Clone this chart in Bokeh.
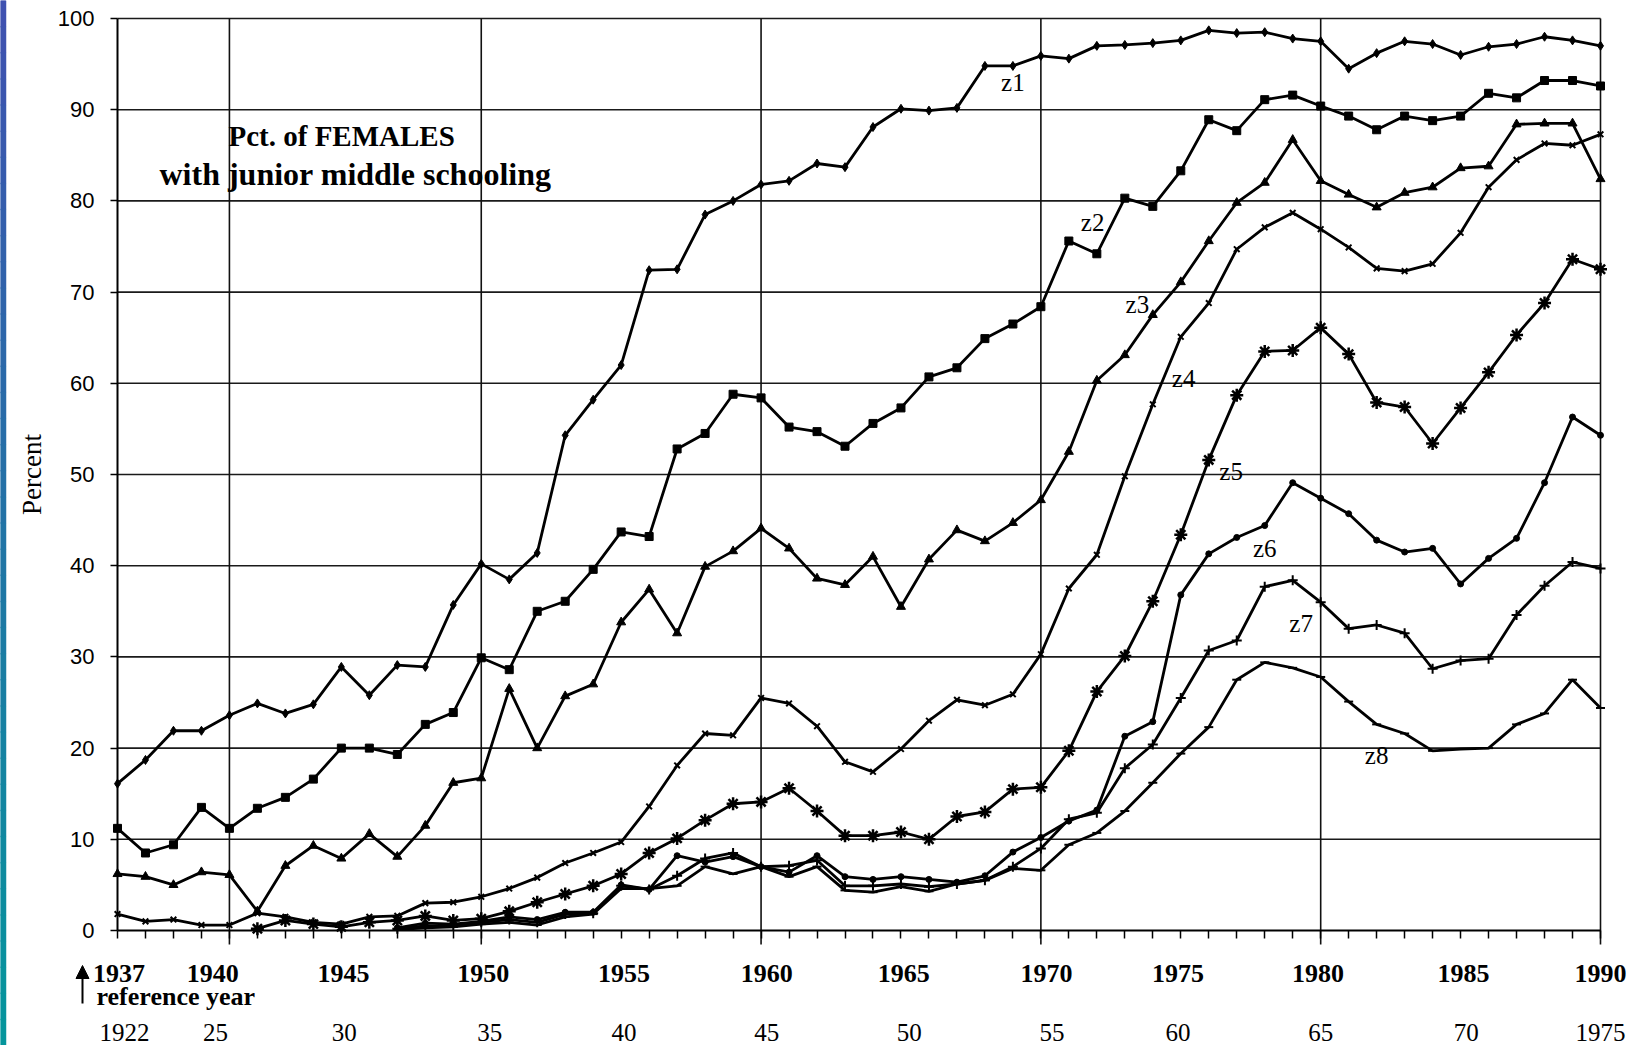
from bokeh.plotting import figure
from bokeh.models import FixedTicker, Arrow, NormalHead, Range1d, LinearAxis
from bokeh.embed import file_html
from bokeh.resources import INLINE
from bokeh.core.properties import value

# ---------------- data ----------------
years = list(range(1937, 1991))
years_z5 = list(range(1942, 1991))
years_z678 = list(range(1947, 1991))

z1 = [16.1, 18.7, 21.9, 21.9, 23.6, 24.9, 23.8, 24.8, 28.9, 25.8,
      29.1, 28.9, 35.7, 40.2, 38.5, 41.4, 54.3, 58.2, 62.0, 72.4,
      72.5, 78.5, 80.0, 81.8, 82.2, 84.1, 83.7, 88.1, 90.1, 89.9,
      90.2, 94.8, 94.8, 95.9, 95.6, 97.0, 97.1, 97.3, 97.6, 98.7,
      98.4, 98.5, 97.8, 97.5, 94.5, 96.2, 97.5, 97.2, 96.0, 96.9,
      97.2, 98.0, 97.6, 97.0]
z2 = [11.2, 8.5, 9.4, 13.5, 11.2, 13.4, 14.6, 16.6, 20.0, 20.0,
      19.3, 22.6, 23.9, 29.9, 28.6, 35.0, 36.1, 39.6, 43.7, 43.2,
      52.8, 54.5, 58.8, 58.4, 55.2, 54.7, 53.1, 55.6, 57.3, 60.7,
      61.7, 64.9, 66.5, 68.4, 75.6, 74.2, 80.3, 79.4, 83.3, 88.9,
      87.7, 91.1, 91.6, 90.4, 89.3, 87.8, 89.3, 88.8, 89.3, 91.8,
      91.3, 93.2, 93.2, 92.6]
z3 = [6.2, 5.9, 5.0, 6.4, 6.1, 2.1, 7.1, 9.3, 7.9, 10.6,
      8.1, 11.5, 16.2, 16.7, 26.5, 20.0, 25.7, 27.0, 33.8, 37.4,
      32.6, 39.9, 41.6, 44.1, 41.9, 38.6, 37.9, 41.0, 35.5, 40.7,
      43.9, 42.7, 44.7, 47.2, 52.5, 60.3, 63.1, 67.5, 71.1, 75.6,
      79.8, 82.0, 86.7, 82.2, 80.7, 79.3, 80.9, 81.5, 83.6, 83.8,
      88.4, 88.5, 88.5, 82.4]
z4 = [1.8, 1.0, 1.2, 0.6, 0.6, 1.9, 1.5, 0.9, 0.7, 1.5,
      1.6, 3.0, 3.1, 3.7, 4.6, 5.8, 7.4, 8.5, 9.7, 13.6,
      18.1, 21.6, 21.4, 25.5, 24.9, 22.4, 18.5, 17.4, 19.9, 23.0,
      25.3, 24.7, 25.9, 30.3, 37.5, 41.2, 49.8, 57.7, 65.1, 68.8,
      74.7, 77.1, 78.7, 76.9, 74.9, 72.6, 72.3, 73.1, 76.5, 81.5,
      84.5, 86.3, 86.1, 87.3]
z5 = [0.2, 1.1, 0.7, 0.4, 0.9,
      1.1, 1.6, 1.1, 1.3, 2.1, 3.1, 4.0, 4.9, 6.2, 8.5,
      10.1, 12.1, 13.9, 14.1, 15.6, 13.1, 10.4, 10.4, 10.8, 10.0,
      12.5, 13.0, 15.5, 15.7, 19.7, 26.2, 30.1, 36.1, 43.4, 51.6,
      58.7, 63.5, 63.6, 66.1, 63.2, 57.9, 57.4, 53.4, 57.3, 61.2,
      65.3, 68.8, 73.6, 72.5]
z6 = [0.3, 0.8, 0.7, 1.0, 1.5, 1.2, 2.0, 2.0, 5.0, 4.5,
      8.2, 7.5, 8.1, 7.0, 6.4, 8.2, 5.9, 5.6, 5.9, 5.6,
      5.3, 6.0, 8.6, 10.2, 12.0, 13.2, 21.3, 22.9, 36.8, 41.3,
      43.1, 44.4, 49.1, 47.4, 45.7, 42.8, 41.5, 41.9, 38.0, 40.8,
      43.0, 49.1, 56.3, 54.3]
z7 = [0.2, 0.5, 0.5, 0.9, 1.2, 0.9, 1.8, 1.9, 4.9, 4.5,
      6.0, 7.9, 8.5, 7.0, 7.1, 7.7, 4.9, 4.9, 5.1, 4.8,
      5.1, 5.5, 7.0, 9.0, 12.2, 12.9, 17.8, 20.4, 25.5, 30.7,
      31.8, 37.7, 38.4, 36.0, 33.1, 33.5, 32.6, 28.7, 29.6, 29.8,
      34.6, 37.8, 40.4, 39.7]
z8 = [0.1, 0.3, 0.4, 0.7, 0.9, 0.6, 1.5, 1.8, 4.6, 4.6,
      4.9, 7.0, 6.2, 7.0, 5.9, 7.0, 4.4, 4.2, 4.8, 4.3,
      5.1, 5.5, 6.8, 6.6, 9.4, 10.7, 13.1, 16.2, 19.4, 22.3,
      27.5, 29.4, 28.8, 27.8, 25.1, 22.6, 21.6, 19.7, 19.9, 20.0,
      22.6, 23.8, 27.5, 24.4]

series_names = ["z1", "z2", "z3", "z4", "z5", "z6", "z7", "z8"]
label_x = [1969.0, 1971.85, 1973.45, 1975.1, 1976.8, 1978.0, 1979.3, 1982.0]
label_y = [93.0, 77.6, 68.6, 60.5, 50.3, 41.9, 33.7, 19.2]

year_labels = ["1937", "1940", "1945", "1950", "1955", "1960", "1965",
               "1970", "1975", "1980", "1985", "1990"]
label_years = [1937, 1940, 1945, 1950, 1955, 1960, 1965, 1970, 1975, 1980, 1985, 1990]
ref_year_labels = ["1922", "25", "30", "35", "40", "45", "50", "55", "60", "65", "70", "1975"]
y_ticks = [0, 10, 20, 30, 40, 50, 60, 70, 80, 90, 100]
grid_years = [1941, 1950, 1960, 1970, 1980, 1990]

title_lines = ["Pct. of FEMALES", "with junior middle schooling"]

# ---------------- geometry (page pixels) ----------------
W, H = 1630, 1045
FL, FR, FT, FB = 117, 1600, 18, 930      # edges of the plotting box
ppx = (FR - FL) / (1990 - 1937)          # pixels per year
ppy = (FB - FT) / 100.0                  # pixels per percent

def xd(px):
    return 1937 + (px - FL) / ppx

def yd(py):
    return (FB - py) / ppy

# small placement nudges of the hand-lettered axis labels
row1_shift = [0.05, 0.4, 0.08, 0.07, 0.1, 0.2, 0.1, 0.2, -0.1, -0.1, 0.1, 0.0]
row2_shift = [0.25, 0.5, 0.1, 0.3, 0.1, 0.2, 0.3, 0.4, -0.1, 0.0, 0.2, 0.0]
row1_pos = [y + d for y, d in zip(label_years, row1_shift)]
row2_pos = [y + d for y, d in zip(label_years, row2_shift)]

p = figure(width=W, height=H,
           x_range=Range1d(xd(0), xd(W)), y_range=Range1d(yd(H), yd(0)),
           output_backend="svg", toolbar_location=None,
           min_border_left=0, min_border_right=0, min_border_top=0,
           min_border_bottom=0)
p.background_fill_color = "white"
p.border_fill_color = "white"
p.outline_line_color = None
p.grid.visible = False

# thin blue-to-teal strip along the left edge of the slide
n_strip = 40
top_rgb, bot_rgb = (64, 80, 176), (4, 150, 156)
edges = [yd(H * i / n_strip) for i in range(n_strip + 1)]
strip_cols = []
for i in range(n_strip):
    t = (i + 0.5) / n_strip
    c = tuple(round(a + (b - a) * t) for a, b in zip(top_rgb, bot_rgb))
    strip_cols.append("#%02x%02x%02x" % c)
p.quad(left=[xd(0)] * n_strip, right=[xd(5)] * n_strip,
       top=edges[:-1], bottom=edges[1:], fill_color=strip_cols,
       line_color=strip_cols, line_width=1.5)

# grid lines (inner lines plus the top and right edges of the box)
gy = y_ticks[1:]
p.segment(x0=[1937] * len(gy), y0=gy, x1=[1990] * len(gy), y1=gy,
          line_color="#1a1a1a", line_width=1.6)
p.segment(x0=grid_years, y0=[yd(944)] * len(grid_years), x1=grid_years,
          y1=[100] * len(grid_years), line_color="#111111", line_width=1.6)

# y axis, pinned at 1937
p.yaxis.fixed_location = 1937
p.yaxis.bounds = (0, 100)
p.yaxis.ticker = FixedTicker(ticks=y_ticks)
p.yaxis.axis_line_width = 2
p.yaxis.major_tick_out = 7
p.yaxis.major_tick_in = 0
p.yaxis.major_tick_line_width = 1.5
p.yaxis.minor_tick_out = 0
p.yaxis.minor_tick_in = 0
p.yaxis.major_label_text_font = "Liberation Sans"
p.yaxis.major_label_text_font_size = "22px"
p.yaxis.major_label_text_color = "black"
p.yaxis.major_label_standoff = 16
p.yaxis.axis_label = "Percent"
p.yaxis.axis_label_text_font = "Liberation Serif"
p.yaxis.axis_label_text_font_style = "normal"
p.yaxis.axis_label_text_font_size = "27px"
p.yaxis.axis_label_text_color = "black"
p.yaxis.axis_label_standoff = 8

# x axis (calendar years), pinned at 0
p.xaxis.fixed_location = 0
p.xaxis.bounds = (1937, 1990)
p.xaxis.ticker = FixedTicker(ticks=row1_pos, minor_ticks=years)
p.xaxis.major_label_overrides = {float(k): v for k, v in zip(row1_pos, year_labels)}
p.xaxis.axis_line_width = 2
p.xaxis.major_tick_out = 0
p.xaxis.major_tick_in = 0
p.xaxis.minor_tick_out = 8
p.xaxis.minor_tick_in = 0
p.xaxis.minor_tick_line_width = 1.5
p.xaxis.major_label_text_font = "Liberation Serif"
p.xaxis.major_label_text_font_style = "bold"
p.xaxis.major_label_text_font_size = "26px"
p.xaxis.major_label_text_color = "black"
p.xaxis.major_label_standoff = 26

# second x axis: reference years
ax2 = LinearAxis(fixed_location=0, bounds=(1937, 1990),
                 ticker=FixedTicker(ticks=row2_pos),
                 major_label_overrides={float(k): v for k, v in zip(row2_pos, ref_year_labels)},
                 axis_line_color=None, major_tick_out=0, major_tick_in=0,
                 minor_tick_out=0, minor_tick_in=0,
                 major_label_text_font="Liberation Serif",
                 major_label_text_font_size="25px",
                 major_label_text_color="black",
                 major_label_standoff=93)
p.add_layout(ax2, "below")

# series
series = [
    (years, z1, "diamond", 9, 1.0),
    (years, z2, "square", 8, 1.0),
    (years, z3, "triangle", 9, 1.0),
    (years, z4, "x", 8, 2.0),
    (years_z5, z5, "asterisk", 13, 2.5),
    (years_z678, z6, "circle", 6, 1.0),
    (years_z678, z7, "cross", 10, 2.0),
    (years_z678, z8, "dash", 9, 2.0),
]
for xs, ys, mk, sz, mlw in series:
    p.line(xs, ys, line_color="black", line_width=2.8)
    p.scatter(xs, ys, marker=mk, size=sz, fill_color="black", line_color="black",
              line_width=mlw)

p.text(x=label_x, y=label_y, text=series_names, text_font=value("Liberation Serif"),
       text_font_size="25px", text_align="center", text_baseline="middle",
       text_color="black")

# title
p.text(x=[xd(228)], y=[yd(135)], text=[title_lines[0]],
       text_font=value("Liberation Serif"), text_font_style="bold",
       text_font_size="29px", text_align="left", text_baseline="middle",
       text_color="black")
p.text(x=[xd(159)], y=[yd(173)], text=[title_lines[1]],
       text_font=value("Liberation Serif"), text_font_style="bold",
       text_font_size="32px", text_align="left", text_baseline="middle",
       text_color="black")

# "reference year" note with its arrow
p.text(x=[xd(96)], y=[yd(996)], text=["reference year"],
       text_font=value("Liberation Serif"), text_font_style="bold",
       text_font_size="26px", text_align="left", text_baseline="middle",
       text_color="black")
p.add_layout(Arrow(x_start=xd(82), y_start=yd(1003), x_end=xd(82), y_end=yd(965),
                   line_width=2, line_color="black",
                   end=NormalHead(size=13, fill_color="black", line_color="black")))

open("out.html", "w").write(file_html(p, INLINE))
